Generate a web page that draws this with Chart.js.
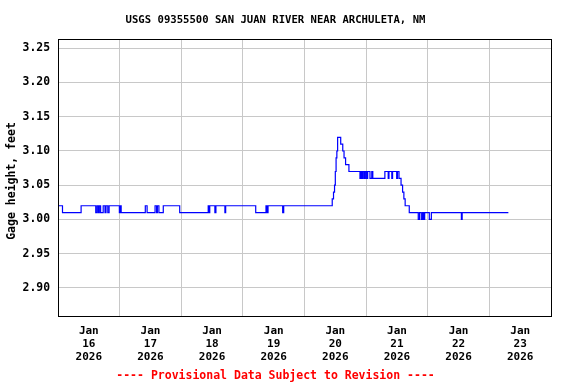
<!DOCTYPE html>
<html>
<head>
<meta charset="utf-8">
<script src="https://cdn.jsdelivr.net/npm/chart.js@4"></script>
<style>
  body { margin: 0; background: #fff; }
</style>
</head>
<body>
<canvas id="myChart" width="576" height="384"></canvas>
<script>
  // DATA: hours since Jan 16 2026 00:00 where the gage height changes, and the new value
  const hours = [0, 1.75, 9.0, 14.7, 15.2, 15.7, 16.1, 16.6, 17.6, 18.3, 18.7, 19.4, 19.9, 23.9, 24.2, 24.6,
    34.0, 34.7, 37.8, 38.4, 38.7, 39.3, 41.0, 47.4, 58.5, 58.8, 59.1, 61.1, 61.5, 65.0, 65.3, 77.0,
    81.0, 81.4, 81.8, 87.5, 87.9, 106.8, 107.3, 107.7, 108.0, 108.3, 108.6, 108.9, 110.1, 110.9, 111.4,
    112.0, 113.3, 117.6, 118.0, 118.4, 118.8, 119.3, 119.7, 120.2, 120.6, 121.5, 122.2, 122.6, 127.3,
    128.6, 128.9, 130.0, 130.3, 131.9, 132.2, 132.8, 133.6, 134.2, 134.7, 135.2, 136.8, 140.3, 140.8,
    141.5, 142.0, 142.4, 142.8, 144.6, 145.4, 157.1, 157.4, 175.4];
  const gageHeight = [3.02, 3.01, 3.02, 3.01, 3.02, 3.01, 3.02, 3.01, 3.02, 3.01, 3.02, 3.01, 3.02, 3.01, 3.02, 3.01,
    3.02, 3.01, 3.02, 3.01, 3.02, 3.01, 3.02, 3.01, 3.02, 3.01, 3.02, 3.01, 3.02, 3.01, 3.02, 3.01,
    3.02, 3.01, 3.02, 3.01, 3.02, 3.03, 3.04, 3.05, 3.07, 3.09, 3.10, 3.12, 3.11, 3.10, 3.09,
    3.08, 3.07, 3.06, 3.07, 3.06, 3.07, 3.06, 3.07, 3.06, 3.07, 3.06, 3.07, 3.06, 3.07,
    3.06, 3.07, 3.06, 3.07, 3.06, 3.07, 3.06, 3.05, 3.04, 3.03, 3.02, 3.01, 3.00, 3.01,
    3.00, 3.01, 3.00, 3.01, 3.00, 3.01, 3.00, 3.01, 3.01];

  // axis ticks
  const yTicks = [2.90, 2.95, 3.00, 3.05, 3.10, 3.15, 3.20, 3.25];
  const dayTicks = [0, 12, 24, 36, 48, 60, 72, 84, 96, 108, 120, 132, 144, 156, 168, 180, 192];
  const dayLabels = ['16', '17', '18', '19', '20', '21', '22', '23'];

  const monoFont = "'DejaVu Sans Mono', monospace";

  // frame around the plot (top and right sides too)
  const frame = {
      id: 'frame',
      afterDraw(chart) {
          const a = chart.chartArea;
          const ctx = chart.ctx;
          ctx.save();
          ctx.strokeStyle = '#000';
          ctx.lineWidth = 1;
          ctx.strokeRect(Math.round(a.left) + 0.5, Math.round(a.top) + 0.5,
              Math.round(a.right - a.left), Math.round(a.bottom - a.top));
          ctx.restore();
      }
  };

  const data = {
      datasets: [{
          data: hours.map((h, i) => ({ x: h, y: gageHeight[i] })),
          borderColor: '#0000ff',
          borderWidth: 1.2,
          pointRadius: 0,
          stepped: true,
          fill: false
      }]
  };

  const config = {
      type: 'line',
      data,
      plugins: [frame],
      options: {
          responsive: false,
          animation: false,
          layout: { padding: { left: 0, right: 25, top: 0, bottom: 0 } },
          plugins: {
              legend: { display: false },
              tooltip: { enabled: false },
              title: {
                  display: true,
                  text: 'USGS 09355500 SAN JUAN RIVER NEAR ARCHULETA, NM',
                  color: '#000',
                  font: { family: monoFont, size: 10.6, weight: 'bold', lineHeight: 1.2 },
                  padding: { top: 14, bottom: 12.3 }
              },
              subtitle: {
                  display: true,
                  position: 'bottom',
                  text: '---- Provisional Data Subject to Revision ----',
                  color: '#ff0000',
                  font: { family: monoFont, size: 11.5, weight: 'bold', lineHeight: 1.2 },
                  padding: { top: 2, bottom: 1.5 }
              }
          },
          scales: {
              x: {
                  type: 'linear',
                  min: 0,
                  max: 192,
                  afterBuildTicks: s => { s.ticks = dayTicks.map(v => ({ value: v })); },
                  afterFit: s => { s.height = 50.7; },
                  border: { color: '#000', width: 1 },
                  grid: {
                      drawTicks: false,
                      color: c => (c.tick && c.tick.value % 24 === 0) ? '#c8c8c8' : 'rgba(0,0,0,0)'
                  },
                  ticks: {
                      autoSkip: false,
                      maxRotation: 0,
                      padding: 8.5,
                      color: '#000',
                      font: { family: monoFont, size: 11, weight: 'bold', lineHeight: 1.18 },
                      callback: v => (v % 24 === 12) ? ['Jan', dayLabels[(v - 12) / 24], '2026'] : ''
                  }
              },
              y: {
                  min: 2.859,
                  max: 3.2635,
                  afterBuildTicks: s => { s.ticks = yTicks.map(v => ({ value: v })); },
                  afterFit: s => { s.width = 58; },
                  border: { color: '#000', width: 1 },
                  grid: { drawTicks: false, color: '#c8c8c8' },
                  ticks: {
                      padding: 8,
                      color: '#000',
                      font: { family: monoFont, size: 11.4, weight: 'bold' },
                      callback: v => Number(v).toFixed(2)
                  },
                  title: {
                      display: true,
                      text: 'Gage height, feet ',
                      color: '#000',
                      font: { family: monoFont, size: 11.5, weight: 'bold', lineHeight: 1.2 },
                      padding: { top: 5, bottom: 0 }
                  }
              }
          }
      }
  };

  var myChart = new Chart(document.getElementById('myChart'), config);
</script>
</body>
</html>
